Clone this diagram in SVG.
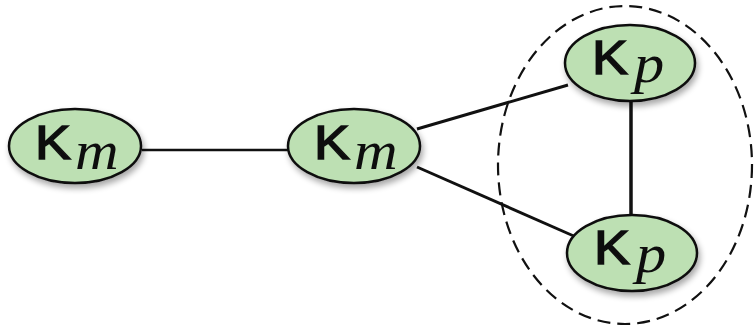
<svg xmlns="http://www.w3.org/2000/svg" width="755" height="328" viewBox="0 0 755 328">
<style>
.node ellipse{fill:#bde0b3;stroke:#111;stroke-width:2.5}
.k{font-family:'Liberation Sans',Arial,sans-serif;font-size:48px;fill:#111;stroke:#111;stroke-width:1.5}
.s{font-family:'Liberation Serif','Times New Roman',serif;font-style:italic;font-size:54px;fill:#111}
.edge{stroke:#111;stroke-width:3;fill:none}
</style>
<defs>
<filter id="sh" x="-20%" y="-20%" width="150%" height="160%">
<feGaussianBlur in="SourceAlpha" stdDeviation="3"/>
<feOffset dx="2" dy="4" result="b"/>
<feComponentTransfer><feFuncA type="linear" slope="0.35"/></feComponentTransfer>
<feMerge><feMergeNode/><feMergeNode in="SourceGraphic"/></feMerge>
</filter>
</defs>
<rect width="755" height="328" fill="#fff"/>
<g id="connectors">
<line class="edge" x1="142" y1="150" x2="289" y2="150" style="stroke-width:2.5"/>
<line class="edge" x1="417" y1="129" x2="568" y2="85"/>
<line class="edge" x1="417" y1="167" x2="576" y2="237"/>
<line class="edge" x1="631" y1="101" x2="631" y2="216" style="stroke-width:3.5"/>
</g>
<g id="group">
<ellipse cx="625" cy="165" rx="127" ry="159" fill="none" stroke="#111" stroke-width="2.2" stroke-dasharray="13,7"/>
</g>
<g id="n1" class="node" filter="url(#sh)">
<ellipse cx="75" cy="146" rx="66" ry="37"/>
<text class="k" transform="translate(35,159) scale(1.12,1)">K</text><text class="s" transform="translate(75,169) scale(1.12,1)">m</text>
</g>
<g id="n2" class="node" filter="url(#sh)">
<ellipse cx="354" cy="146" rx="66" ry="37"/>
<text class="k" transform="translate(314,159) scale(1.12,1)">K</text><text class="s" transform="translate(354,169) scale(1.12,1)">m</text>
</g>
<g id="n3" class="node" filter="url(#sh)">
<ellipse cx="630" cy="63" rx="65" ry="38"/>
<text class="k" transform="translate(592,74) scale(1.12,1)">K</text><text class="s" transform="translate(634,82) scale(1.12,1)">p</text>
</g>
<g id="n4" class="node" filter="url(#sh)">
<ellipse cx="632" cy="253" rx="65" ry="38"/>
<text class="k" transform="translate(594,264) scale(1.12,1)">K</text><text class="s" transform="translate(636,272) scale(1.12,1)">p</text>
</g>
</svg>
